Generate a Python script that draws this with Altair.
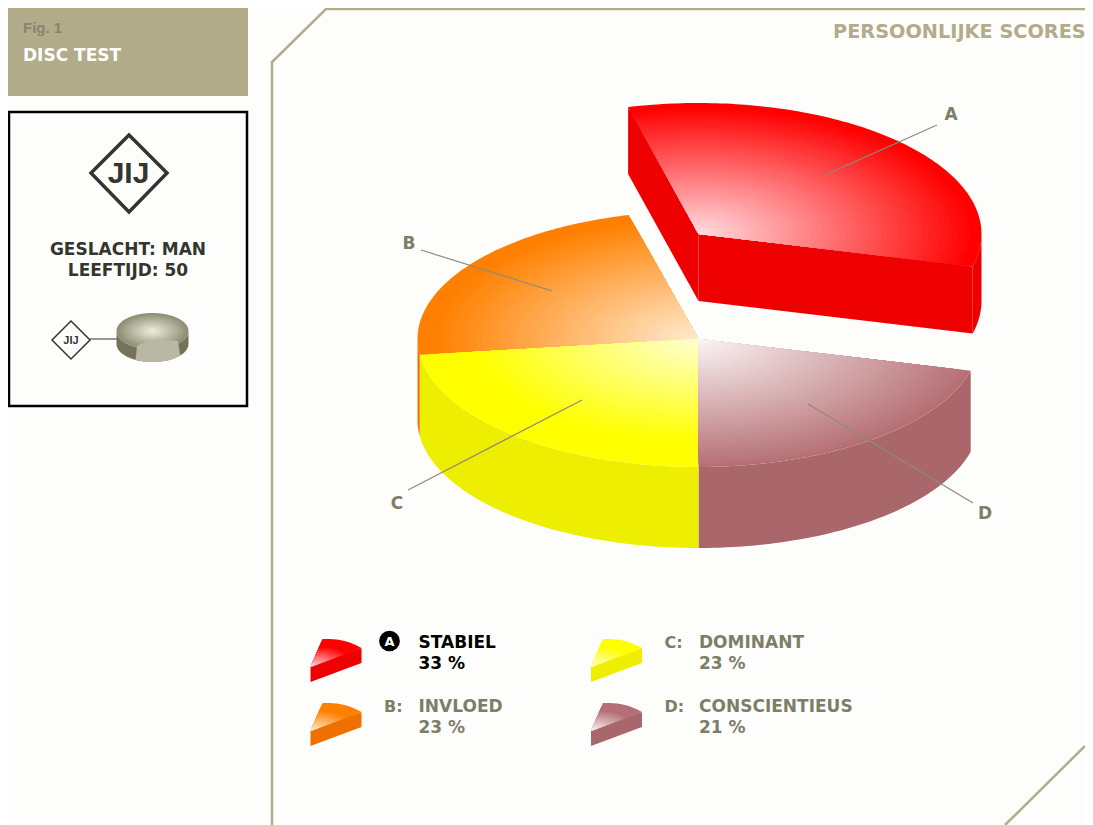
import math
import altair as alt

# ---- chart values ----
letters = ["A", "B", "C", "D"]
names = ["STABIEL", "INVLOED", "DOMINANT", "CONSCIENTIEUS"]
scores = [33, 23, 23, 21]
edge_colors = ["#FF0000", "#FF8000", "#FFFF00", "#B56F74"]
side_colors = ["#EE0000", "#EE7000", "#EEEE00", "#A9666B"]
center_colors = ["#FFDCE0", "#FFEBCF", "#FFFFD0", "#FBF4F4"]
reach = [0.97, 0.94, 0.8, 1.0]

BEIGE = "#B2AC8A"
LABEL = "#7E7D68"
INK = "#35352F"
PAPER = "#FDFEFB"
FONT = "DejaVu Sans"
CONDENSED = "Liberation Sans"

xs = alt.Scale(domain=[8, 1085], range=[0, 1077])
ys = alt.Scale(domain=[8, 825], range=[0, 817])
layers = []
IDENTITY = dict(type="identity", scale=1, translate=[-8, -8])


def ring(points):
    pts = [list(p) for p in points]
    return pts + [pts[0]]


def feature(points, fill=None):
    return {"type": "Feature", "properties": {"fill": fill},
            "geometry": {"type": "Polygon", "coordinates": [ring(points)]}}


def shape(points, **mark):
    mark.setdefault("strokeWidth", 0)
    layers.append(alt.Chart(alt.Data(values=[feature(points)])).mark_geoshape(**mark).project(**IDENTITY))


def polyline(points, color, width):
    f = {"type": "Feature", "properties": {},
         "geometry": {"type": "LineString", "coordinates": [list(p) for p in points]}}
    layers.append(alt.Chart(alt.Data(values=[f])).mark_geoshape(
        filled=False, stroke=color, strokeWidth=width).project(**IDENTITY))


def text(t, x, y, size, color, align="left", font=FONT, weight="bold"):
    layers.append(alt.Chart(alt.Data(values=[{"x": x, "y": y + 1, "t": t}])).mark_text(
        align=align, baseline="middle", font=font, fontSize=size, fontWeight=weight,
        color=color).encode(
        x=alt.X("x:Q", scale=xs, axis=None),
        y=alt.Y("y:Q", scale=ys, axis=None),
        text="t:N"))


def arc(cx, cy, rx, ry, a0, a1, dy=0):
    n = max(2, int(abs(a1 - a0)) + 1)
    return [(cx + rx * math.cos(math.radians(a0 + (a1 - a0) * i / n)),
             cy + dy + ry * math.sin(math.radians(a0 + (a1 - a0) * i / n))) for i in range(n + 1)]


def mix(c0, c1, t):
    a = [int(c0[i:i + 2], 16) for i in (1, 3, 5)]
    b = [int(c1[i:i + 2], 16) for i in (1, 3, 5)]
    return "#%02X%02X%02X" % tuple(round(a[i] + (b[i] - a[i]) * t) for i in range(3))


def bands(apex, outline, inner, outer, full_at, n=48):
    """Elliptical radial shading: the outline scaled about the apex, largest first."""
    feats = []
    for j in range(n, 0, -1):
        k = j / n
        pts = [apex] + [(apex[0] + (p[0] - apex[0]) * k, apex[1] + (p[1] - apex[1]) * k) for p in outline]
        feats.append(feature(pts, mix(inner, outer, min(1.0, (k - 0.5 / n) / full_at))))
    layers.append(alt.Chart(alt.Data(values=feats)).mark_geoshape(strokeWidth=0).encode(
        color=alt.Color("properties.fill:N", scale=None)).project(**IDENTITY))


def pie_spans(first=90.0):
    """Angles (clockwise from east) of each slice, derived from the scores."""
    spans = {}
    a = first
    for i in [2, 1, 0]:
        spans[i] = (a, a + scores[i] * 3.6)
        a = spans[i][1]
    spans[3] = (a - 360, first)
    return spans


spans = pie_spans()

# ---- page furniture ----
shape([(8, 8), (248, 8), (248, 96), (8, 96)], fill=BEIGE)
text("Fig. 1", 23, 27, 15, "#87856F", font=CONDENSED)
text("DISC TEST", 23, 55, 17, "#FFFFFF")

shape([(9, 112), (247, 112), (247, 406), (9, 406)], fill=PAPER, stroke="#000000", strokeWidth=2.5)
shape([(129, 135), (167, 173), (129, 212), (91, 173)], fill=PAPER, stroke=INK, strokeWidth=3.5)
text("JIJ", 128.5, 173, 30, INK, "center", CONDENSED)
text("GESLACHT: MAN", 128, 249, 17, INK, "center")
text("LEEFTIJD: 50", 128, 270, 17, INK, "center")
shape([(71, 321), (90, 340), (71, 359), (52, 340)], fill=PAPER, stroke=INK, strokeWidth=1.5)
text("JIJ", 71, 340, 11, INK, "center", CONDENSED)
polyline([(90, 339), (117, 339)], INK, 1)

polyline([(272, 825), (272, 62), (326, 9), (1085, 9)], BEIGE, 2.5)
polyline([(1005, 825), (1085, 746)], BEIGE, 2.5)
text("PERSOONLIJKE SCORES", 833, 30.5, 19.3, BEIGE)

# ---- pie: side walls, then top faces ----
CX, CY, RX, RY, DEPTH = 698.5, 339, 281, 128, 81
LX, LY, LRX, LRY, LDEPTH = 698.5, 234, 283, 131, 67

for i in [3, 2, 1]:
    a0, a1 = spans[i]
    a0v, a1v = max(a0, 0), min(a1, 180)
    if a1v > a0v:
        shape(arc(CX, CY, RX, RY, a0v, a1v) + arc(CX, CY, RX, RY, a1v, a0v, DEPTH), fill=side_colors[i])
for i in [1, 2, 3]:
    a0, a1 = spans[i]
    bands((CX, CY), arc(CX, CY, RX, RY, a0, a1), center_colors[i], edge_colors[i], reach[i])

# exploded slice A
a0, a1 = spans[0]
start = arc(LX, LY, LRX, LRY, a0, a0)[0]
end = arc(LX, LY, LRX, LRY, a1, a1)[0]
shape([(LX, LY), start, (start[0], start[1] + LDEPTH), (LX, LY + LDEPTH)], fill=side_colors[0])
shape([(LX, LY), end, (end[0], end[1] + LDEPTH), (LX, LY + LDEPTH)], fill=side_colors[0])
shape(arc(LX, LY, LRX, LRY, 360, a1) + arc(LX, LY, LRX, LRY, a1, 360, LDEPTH), fill=side_colors[0])
bands((LX, LY), arc(LX, LY, LRX, LRY, a0, a1), center_colors[0], edge_colors[0], reach[0])

# mini disc next to the small diamond
MX, MY, MRX, MRY, MD = 152.5, 331, 36, 18, 13
shape(arc(MX, MY, MRX, MRY, 0, 180) + arc(MX, MY, MRX, MRY, 180, 0, MD), fill="#74735A")
bands((MX, MY), arc(MX, MY, MRX, MRY, 0, 360), "#EDEDDF", "#8D8C71", 1.0, n=14)
shape([(137, 346), (150, 339), (178, 341)] + arc(MX, MY, MRX, MRY, 40, 118, MD), fill="#B8B8A4")

# ---- leader lines and letters ----
leaders = [[(825, 175), (937, 125)], [(421, 250), (552, 291)],
           [(408, 490), (582, 400)], [(808, 404), (973, 503)]]
letter_pos = [(951, 113.5), (409, 242.5), (397, 502.5), (985, 512.5)]
for i, letter in enumerate(letters):
    polyline(leaders[i], "#8C8C7A", 1.2)
    text(letter, letter_pos[i][0], letter_pos[i][1], 17, LABEL, "center")


# ---- legend ----
def glyph(x, y, i):
    apex = (x, y + 29)
    start_pt = (x + 12, y + 1)
    end_pt = (x + 51, y + 10)
    ctrl = (x + 34, y + 0)
    curve = []
    for k in range(13):
        t = k / 12
        curve.append(((1 - t) ** 2 * start_pt[0] + 2 * t * (1 - t) * ctrl[0] + t * t * end_pt[0],
                      (1 - t) ** 2 * start_pt[1] + 2 * t * (1 - t) * ctrl[1] + t * t * end_pt[1]))
    shape([apex, end_pt, (end_pt[0], end_pt[1] + 15), (apex[0], apex[1] + 15)], fill=side_colors[i])
    bands(apex, curve, center_colors[i], edge_colors[i], 0.72, n=16)


legend_pos = [(310.5, 638), (310.5, 702), (591, 638), (591, 702)]
for i, name in enumerate(names):
    gx, gy = legend_pos[i]
    glyph(gx, gy, i)
    tx = gx + 108
    col = "#000000" if i == 0 else LABEL
    if i == 0:
        layers.append(alt.Chart(alt.Data(values=[{"x": 389.5, "y": 641}])).mark_point(
            filled=True, color="#000000", opacity=1, size=430).encode(
            x=alt.X("x:Q", scale=xs, axis=None), y=alt.Y("y:Q", scale=ys, axis=None)))
        text("A", 389.5, 640.5, 13, "#FFFFFF", "center")
    else:
        text(f"{letters[i]}:", gx + 73.5, gy + 4, 16, LABEL)
    text(name, tx, gy + 4, 17, col)
    text(f"{scores[i]} %", tx, gy + 25, 17, col)

chart = alt.layer(*layers).properties(
    width=1077, height=817, padding=0, background=PAPER,
    autosize=alt.AutoSizeParams(type="none")
).configure_view(stroke=None)

chart.save("out.html", embed_options={"renderer": "svg", "actions": False})
